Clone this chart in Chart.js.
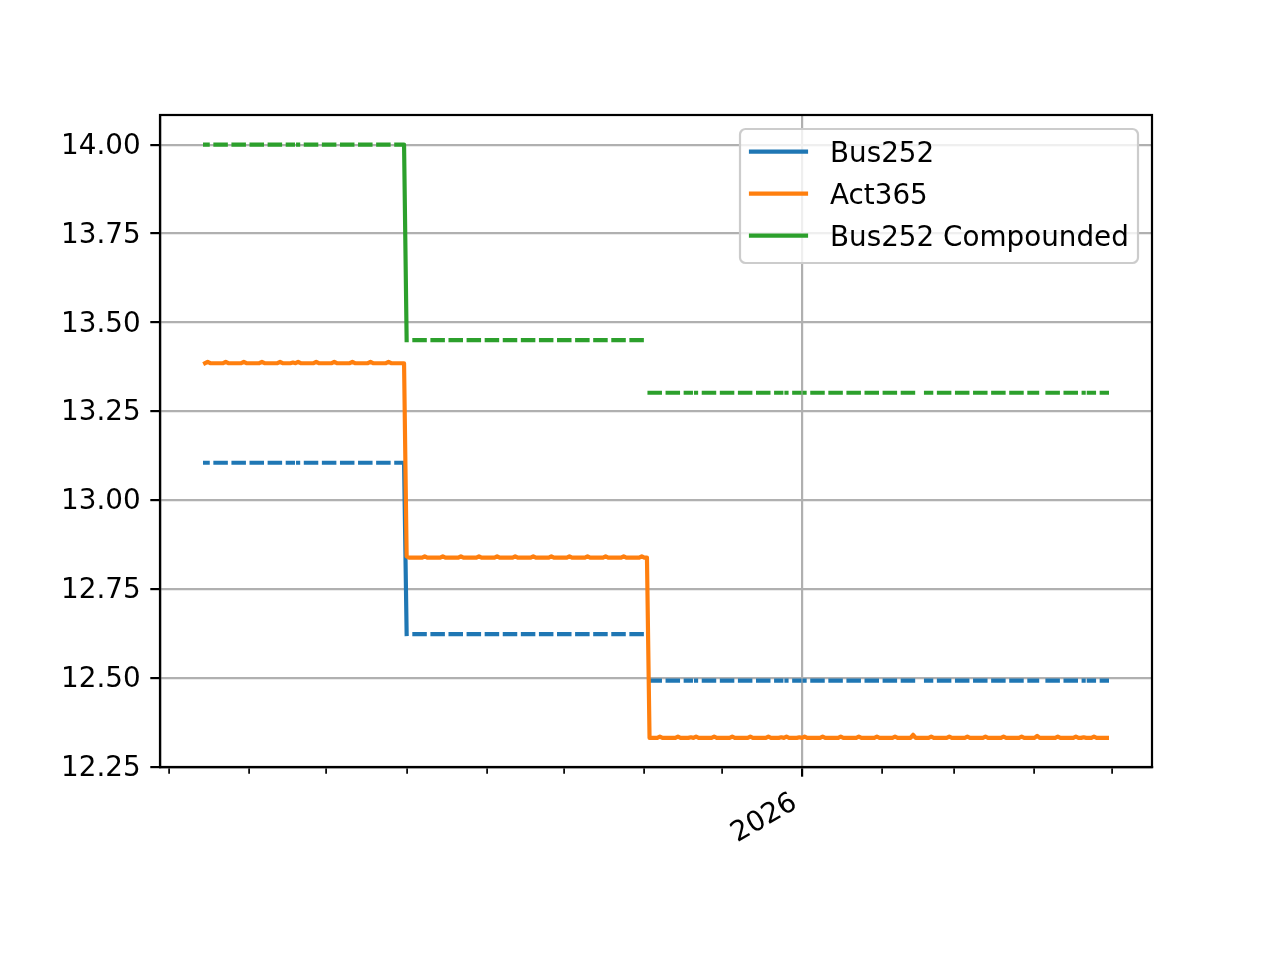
<!DOCTYPE html>
<html>
<head>
<meta charset="utf-8">
<script src="https://cdn.jsdelivr.net/npm/chart.js@4.4.1/dist/chart.umd.min.js"></script>
<style>
  html, body { margin: 0; padding: 0; background: #fff; }
  canvas { display: block; }
</style>
</head>
<body>
<canvas id="myChart" width="1280" height="960"></canvas>
<script>
const firstDay = "2025-05-15";
const lastDay = "2026-04-29";

// rate regimes, each one runs until the next start (first business day)
const periodStarts = ["2025-05-15", "2025-08-01", "2025-11-03"];
const bus252Rates = [13.105, 12.623, 12.492];
const act365Rates = [13.385, 12.838, 12.331];
const compoundedRates = [14.0, 13.45, 13.302];

// holidays inside the window -> no Bus252 value that day
const holidays = [
  "2025-06-19", "2025-09-07", "2025-10-12", "2025-11-02", "2025-11-15",
  "2025-11-20", "2025-12-25", "2026-01-01", "2026-02-16", "2026-02-17",
  "2026-04-03", "2026-04-21"
];

// small Act365 bump on the last business day before n non-business days
const act365Bump = [0, 0.0018, 0.0036, 0.0055, 0.0085];

const monthTicks = [
  "2025-05-01", "2025-06-01", "2025-07-01", "2025-08-01", "2025-09-01",
  "2025-10-01", "2025-11-01", "2025-12-01", "2026-01-01", "2026-02-01",
  "2026-03-01", "2026-04-01", "2026-05-01"
];
const yTicks = [12.25, 12.5, 12.75, 13.0, 13.25, 13.5, 13.75, 14.0];

const DAY = 86400000;
const base = Date.parse(firstDay + "T00:00:00Z");
const toDay = (s) => Math.round((Date.parse(s + "T00:00:00Z") - base) / DAY);
const fromDay = (d) => new Date(base + d * DAY);

const nDays = toDay(lastDay) + 1;
const holidaySet = new Set(holidays.map(toDay));
const isBiz = (d) => {
  const wd = fromDay(d).getUTCDay();
  return wd !== 0 && wd !== 6 && !holidaySet.has(d);
};
const periodOf = (d) => {
  let k = 0;
  periodStarts.forEach((s, i) => { if (d >= toDay(s)) k = i; });
  return k;
};

const busData = [];
const actData = [];
const compData = [];
for (let d = 0; d < nDays; d++) {
  const k = periodOf(d);
  const biz = isBiz(d);
  busData.push({ x: d, y: biz ? bus252Rates[k] : null });
  compData.push({ x: d, y: biz ? compoundedRates[k] : null });
  let gap = 0;
  if (biz) {
    while (d + gap + 1 < nDays && !isBiz(d + gap + 1)) gap++;
  }
  actData.push({ x: d, y: act365Rates[k] + act365Bump[Math.min(gap, act365Bump.length - 1)] });
}

const span = nDays - 1;
const xMin = -0.05 * span;
const xMax = span + 0.05 * span;

const isMajor = (v) => fromDay(v).getUTCMonth() === 0;

const frameAndLegend = {
  id: "frameAndLegend",
  afterDatasetsDraw(chart) {
    const ctx = chart.ctx;
    const a = chart.chartArea;
    ctx.save();
    ctx.strokeStyle = "#000";
    ctx.lineWidth = 2.2;
    ctx.strokeRect(a.left, a.top, a.right - a.left, a.bottom - a.top);

    const w = 398, h = 134, r = 5.6;
    const bx = a.right - 14 - w, by = a.top + 14;
    ctx.beginPath();
    ctx.roundRect(bx, by, w, h, r);
    ctx.fillStyle = "rgba(255,255,255,0.8)";
    ctx.fill();
    ctx.strokeStyle = "#cccccc";
    ctx.lineWidth = 2.2;
    ctx.stroke();

    ctx.font = "27.8px 'DejaVu Sans'";
    ctx.textAlign = "left";
    ctx.textBaseline = "alphabetic";
    chart.data.datasets.forEach((ds, i) => {
      const y = by + 22.7 + i * 42;
      ctx.beginPath();
      ctx.moveTo(bx + 11, y);
      ctx.lineTo(bx + 66, y);
      ctx.strokeStyle = ds.borderColor;
      ctx.lineWidth = 4.17;
      ctx.lineCap = "square";
      ctx.stroke();
      ctx.fillStyle = "#000";
      ctx.fillText(ds.label, bx + 90, y + 10);
    });
    ctx.restore();
  }
};

const lineStyle = {
  pointRadius: 0,
  borderWidth: 4.17,
  tension: 0,
  spanGaps: false,
  borderCapStyle: "square",
  borderJoinStyle: "round",
  fill: false
};

new Chart(document.getElementById("myChart"), {
  type: "line",
  data: {
    datasets: [
      { label: "Bus252", data: busData, borderColor: "#1f77b4", order: 3, ...lineStyle },
      { label: "Act365", data: actData, borderColor: "#ff7f0e", order: 2, ...lineStyle },
      { label: "Bus252 Compounded", data: compData, borderColor: "#2ca02c", order: 1, ...lineStyle }
    ]
  },
  options: {
    responsive: false,
    animation: false,
    devicePixelRatio: 1,
    events: [],
    layout: { padding: { top: 115, right: 128, left: 0, bottom: 0 } },
    plugins: { legend: { display: false }, tooltip: { enabled: false } },
    scales: {
      x: {
        type: "linear",
        min: xMin,
        max: xMax,
        afterFit: (scale) => { scale.height = 193; },
        afterBuildTicks: (scale) => {
          scale.ticks = monthTicks.map((s) => ({ value: toDay(s) }));
        },
        grid: {
          color: (c) => (c.tick && isMajor(c.tick.value) ? "#b0b0b0" : "rgba(0,0,0,0)"),
          lineWidth: 2.2,
          tickColor: "#000",
          tickLength: 9.7,
          tickWidth: (c) => (c.tick && isMajor(c.tick.value) ? 2.2 : 1.7),
          tickBorderDash: (c) => (c.tick && isMajor(c.tick.value) ? [] : [5.6, 40])
        },
        border: { color: "#000", width: 2.2 },
        ticks: {
          autoSkip: false,
          minRotation: 30,
          maxRotation: 30,
          padding: 9.7,
          labelOffset: -7,
          color: "#000",
          font: { family: "DejaVu Sans", size: 27.8 },
          callback: (v) => (isMajor(v) ? String(fromDay(v).getUTCFullYear()) : "")
        }
      },
      y: {
        type: "linear",
        min: 12.249,
        max: 14.0834,
        afterFit: (scale) => { scale.width = 160; },
        afterBuildTicks: (scale) => {
          scale.ticks = yTicks.map((v) => ({ value: v }));
        },
        grid: {
          color: "#b0b0b0",
          lineWidth: 2.2,
          tickColor: "#000",
          tickLength: 9.7,
          tickWidth: 2.2
        },
        border: { color: "#000", width: 2.2 },
        ticks: {
          padding: 9.7,
          labelOffset: 2,
          color: "#000",
          font: { family: "DejaVu Sans", size: 27.8 },
          callback: (v) => v.toFixed(2)
        }
      }
    }
  },
  plugins: [frameAndLegend]
});
</script>
</body>
</html>
